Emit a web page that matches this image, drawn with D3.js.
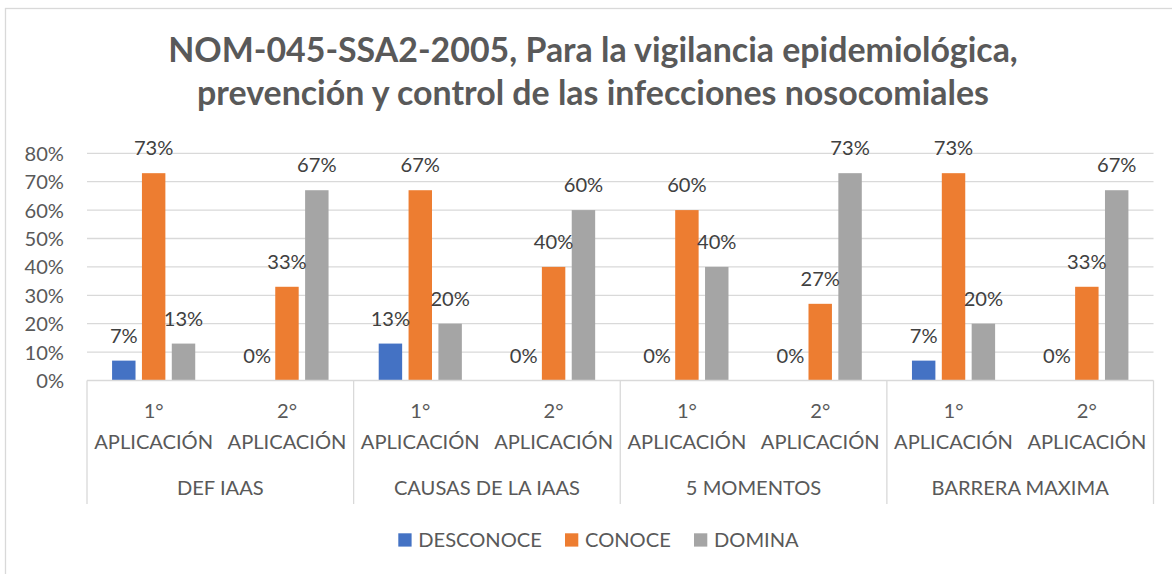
<!DOCTYPE html>
<html lang="es">
<head>
<meta charset="utf-8">
<script src="https://cdn.jsdelivr.net/npm/d3@7"></script>
<style>
  html, body { margin: 0; padding: 0; background: #fff; }
  svg { display: block; }
  text { font-family: Lato, "Open Sans", sans-serif; }
</style>
</head>
<body>
<svg id="chart" width="1172" height="574"></svg>
<script>
// ---- data ----
const titleLines = [
  "NOM-045-SSA2-2005, Para la vigilancia epidemiológica,",
  "prevención y control de las infecciones nosocomiales"
];
const groups = ["DEF IAAS", "CAUSAS DE LA IAAS", "5 MOMENTOS", "BARRERA MAXIMA"];
const applications = ["1°|APLICACIÓN", "2°|APLICACIÓN"];
const seriesNames = ["DESCONOCE", "CONOCE", "DOMINA"];
const seriesColors = ["#4472C4", "#ED7D31", "#A5A5A5"];
// percent per group, in order: 1° aplicación, 2° aplicación
const desconoce = [7, 0, 13, 0, 0, 0, 7, 0];
const conoce    = [73, 33, 67, 40, 60, 27, 73, 33];
const domina    = [13, 67, 20, 60, 40, 73, 20, 67];
const yTicks = [0, 10, 20, 30, 40, 50, 60, 70, 80];

const seriesValues = [desconoce, conoce, domina];
const slots = [];
groups.forEach((g, gi) => applications.forEach((a, ai) => slots.push({ g, gi, a, key: g + "|" + a, idx: gi * 2 + ai })));

// ---- layout ----
const svg = d3.select("#chart");
const W = 1172, H = 574;
const plot = { left: 87, right: 1153.5, top: 153.3, bottom: 380.5 };
const textGray = "#595959";
const gridGray = "#D9D9D9";

svg.append("rect").attr("width", W).attr("height", H).attr("fill", "#fff");
// chart area frame
svg.append("rect")
  .attr("x", 5.5).attr("y", 8.5).attr("width", W + 20).attr("height", H + 20)
  .attr("fill", "none").attr("stroke", gridGray).attr("stroke-width", 1.3);

// helper: scale font-size so that a text node spans a given width
function fitWidth(node, target) {
  const fs = parseFloat(node.getAttribute("font-size"));
  const w = node.getComputedTextLength();
  node.setAttribute("font-size", (fs * target / w).toFixed(2));
}

// ---- title ----
const t1 = svg.append("text").attr("x", 593).attr("y", 62)
  .attr("text-anchor", "middle").attr("font-weight", 700).attr("font-size", 28)
  .attr("fill", textGray).text(titleLines[0]);
fitWidth(t1.node(), 850);
const titleSize = t1.attr("font-size");
svg.append("text").attr("x", 593).attr("y", 105)
  .attr("text-anchor", "middle").attr("font-weight", 700).attr("font-size", titleSize)
  .attr("fill", textGray).text(titleLines[1]);

// ---- scales ----
const y = d3.scaleLinear().domain([0, 80]).range([plot.bottom, plot.top]);
const x0 = d3.scaleBand().domain(slots.map(s => s.key)).range([plot.left, plot.right]).padding(0);
const x1 = d3.scaleBand().domain(seriesNames).range([0, x0.bandwidth()])
  .paddingInner(0.215).paddingOuter(0.84);

// label font size from a reference string
const probe = svg.append("text").attr("font-size", 20).text("APLICACIÓN");
fitWidth(probe.node(), 119);
const labelSize = +probe.attr("font-size");
probe.remove();

// ---- gridlines + y axis ----
const yAxis = d3.axisLeft(y).tickValues(yTicks).tickSize(0).tickPadding(0)
  .tickFormat(d => d + "%");
const ga = svg.append("g").attr("transform", `translate(${plot.left},0)`).call(yAxis);
ga.select(".domain").remove();
ga.selectAll("text").attr("x", -23).attr("dy", "0.35em")
  .attr("font-size", labelSize).attr("fill", textGray)
  .style("font-family", "Lato, 'Open Sans', sans-serif");

svg.append("g").selectAll("line").data(yTicks.filter(d => d > 0)).join("line")
  .attr("x1", plot.left).attr("x2", plot.right)
  .attr("y1", d => y(d)).attr("y2", d => y(d))
  .attr("stroke", gridGray).attr("stroke-width", 1.3);

// ---- bars ----
const barG = svg.append("g");
seriesNames.forEach((name, si) => {
  barG.append("g").selectAll("rect").data(slots).join("rect")
    .attr("x", s => x0(s.key) + x1(name))
    .attr("width", x1.bandwidth())
    .attr("y", s => y(seriesValues[si][s.idx]))
    .attr("height", s => y(0) - y(seriesValues[si][s.idx]))
    .attr("fill", seriesColors[si]);
});

// ---- data labels ----
seriesNames.forEach((name, si) => {
  svg.append("g").selectAll("text").data(slots).join("text")
    .attr("x", s => x0(s.key) + x1(name) + x1.bandwidth() / 2)
    .attr("y", s => y(seriesValues[si][s.idx]) - 18)
    .attr("text-anchor", "middle").attr("font-size", labelSize).attr("fill", "#404040")
    .text(s => seriesValues[si][s.idx] + "%");
});

// ---- category axis (two levels) ----
svg.append("line").attr("x1", plot.left).attr("x2", plot.right)
  .attr("y1", plot.bottom).attr("y2", plot.bottom)
  .attr("stroke", gridGray).attr("stroke-width", 1.3);

const groupScale = d3.scaleBand().domain(groups).range([plot.left, plot.right]).padding(0);
const bounds = groups.map(g => groupScale(g)).concat([plot.right]);
svg.append("g").selectAll("line").data(bounds).join("line")
  .attr("x1", d => d).attr("x2", d => d)
  .attr("y1", plot.bottom).attr("y2", 504)
  .attr("stroke", gridGray).attr("stroke-width", 1.3);

const sub = svg.append("g").selectAll("text").data(slots).join("text")
  .attr("x", s => x0(s.key) + x0.bandwidth() / 2)
  .attr("text-anchor", "middle").attr("font-size", labelSize).attr("fill", textGray);
sub.append("tspan").attr("x", s => x0(s.key) + x0.bandwidth() / 2).attr("y", 418)
  .text(s => s.a.split("|")[0]);
sub.append("tspan").attr("x", s => x0(s.key) + x0.bandwidth() / 2).attr("y", 449)
  .text(s => s.a.split("|")[1]);

svg.append("g").selectAll("text").data(groups).join("text")
  .attr("x", g => groupScale(g) + groupScale.bandwidth() / 2).attr("y", 495)
  .attr("text-anchor", "middle").attr("font-size", labelSize).attr("fill", textGray)
  .text(g => g);

// ---- legend ----
const legendX = [398.3, 565, 694];
const legend = svg.append("g").selectAll("g").data(seriesNames).join("g")
  .attr("transform", (d, i) => `translate(${legendX[i]},533.3)`);
legend.append("rect").attr("width", 13.3).attr("height", 13.3)
  .attr("fill", (d, i) => seriesColors[i]);
legend.append("text").attr("x", 20).attr("y", 14)
  .attr("font-size", labelSize).attr("fill", textGray).text(d => d);
</script>
</body>
</html>
